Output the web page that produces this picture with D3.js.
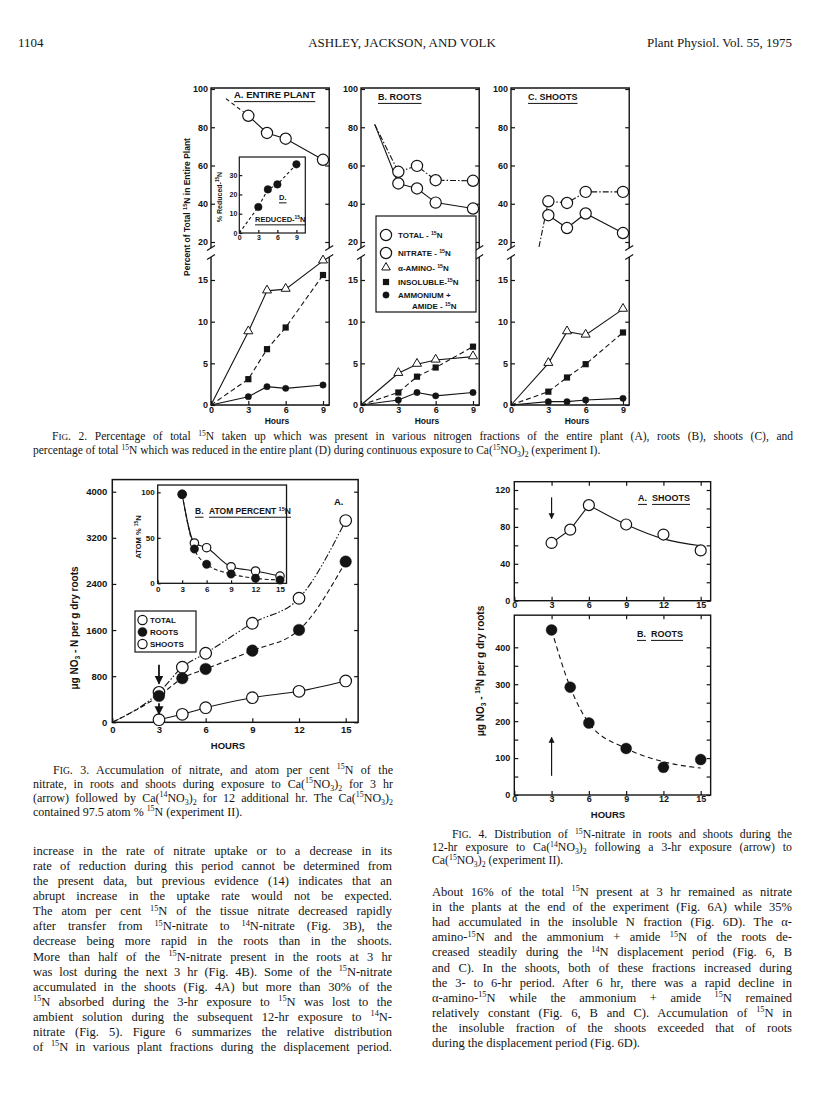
<!DOCTYPE html>
<html>
<head>
<meta charset="utf-8">
<script src="https://cdn.jsdelivr.net/npm/d3@7"></script>
<style>
body { margin: 0; background: #fff; }
svg text { fill: #141414; }
.ser { font-family: "Liberation Serif", "Times New Roman", serif; }
.lab { font-family: "Liberation Sans", Arial, sans-serif; font-weight: bold; }
</style>
</head>
<body>
<div id="page"></div>
<script>
// ---- data ----

// fig 2 - continuous exposure, hours sampled
var hours2 = [3, 4.5, 6, 9];
var nitrateA = [86, 77, 74, 63];
var aminoA = [8.8, 13.7, 13.9, 17.3];
var insolA = [3.1, 6.7, 9.3, 15.6];
var ammonA = [1.0, 2.2, 2.0, 2.4];
var leadA = [1.2, 95];

var totalB = [56.7, 59.8, 52.3, 52];
var nitrateB = [50.6, 48, 40.6, 37.5];
var aminoB = [3.8, 4.9, 5.4, 5.8];
var insolB = [1.5, 3.4, 4.5, 7.0];
var ammonB = [0.6, 1.5, 1.1, 1.5];
var leadB = [1.1, 81.5];

var totalC = [41.3, 40.4, 46.2, 46.2];
var nitrateC = [34, 27.3, 34.9, 24.7];
var aminoC = [5.0, 8.8, 8.4, 11.5];
var insolC = [1.6, 3.3, 4.9, 8.7];
var ammonC = [0.4, 0.4, 0.6, 0.8];
var leadC = [2.25, 17.4];

var reducedD = [13.5, 22.6, 25.2, 35.6];

var upTicks = [20, 40, 60, 80, 100];
var loTicks = [0, 5, 10, 15];
var hourTicks2 = [0, 3, 6, 9];
var dTicksY = [0, 10, 20, 30];

// fig 3 - displacement, experiment II
var hours3 = [3, 4.5, 6, 9, 12, 15];
var total3 = [520, 955, 1198, 1718, 2152, 3500];
var roots3 = [457, 764, 925, 1243, 1602, 2788];
var shoots3 = [45, 139, 253, 427, 538, 717];
var atomTotal = [97.8, 44.3, 39.1, 18.2, 13.5, 8];
var atomRoots = [97.8, 37.7, 20.9, 10.2, 5.5, 3.6];
var ticks3Y = [0, 800, 1600, 2400, 3200, 4000];
var hourTicks3 = [0, 3, 6, 9, 12, 15];
var atomTicks = [0, 50, 100];
var arrows3 = [[1000, 670], [330, 139]];

// fig 4
var hours4 = [3, 4.5, 6, 9, 12, 15];
var shoots4 = [62.6, 77, 103.6, 82.6, 71.7, 54.5];
var roots4 = [447, 292, 195, 126, 75, 96];
var shootsFitH = [6, 9, 12, 15];
var shootsFit = [103.6, 82.6, 67, 59.5];
var rootsFitH = [3, 4.5, 6, 9, 12, 15];
var rootsFit = [447, 292, 195, 126, 90, 73];
var ticks4A = [0, 20, 40, 60, 80, 100, 120];
var ticks4B = [0, 50, 100, 150, 200, 250, 300, 350, 400];
var arrow4A = [112, 89];
var arrow4B = [52, 156];

// ---- page text ----
var cap2 = [
  'F~{IG}. 2. Percentage of total ^{15}N taken up which was present in various nitrogen fractions of the entire plant (A), roots (B), shoots (C), and',
  'percentage of total ^{15}N which was reduced in the entire plant (D) during continuous exposure to Ca(^{15}NO_{3})_{2} (experiment I).'
];
var cap3 = [
  'F~{IG}. 3. Accumulation of nitrate, and atom per cent ^{15}N of the',
  'nitrate, in roots and shoots during exposure to Ca(^{15}NO_{3})_{2} for 3 hr',
  '(arrow) followed by Ca(^{14}NO_{3})_{2} for 12 additional hr. The Ca(^{15}NO_{3})_{2}',
  'contained 97.5 atom % ^{15}N (experiment II).'
];
var cap4 = [
  'F~{IG}. 4. Distribution of ^{15}N-nitrate in roots and shoots during the',
  '12-hr exposure to Ca(^{14}NO_{3})_{2} following a 3-hr exposure (arrow) to',
  'Ca(^{15}NO_{3})_{2} (experiment II).'
];
var leftBody = [
  'increase in the rate of nitrate uptake or to a decrease in its',
  'rate of reduction during this period cannot be determined from',
  'the present data, but previous evidence (14) indicates that an',
  'abrupt increase in the uptake rate would not be expected.',
  'The atom per cent ^{15}N of the tissue nitrate decreased rapidly',
  'after transfer from ^{15}N-nitrate to ^{14}N-nitrate (Fig. 3B), the',
  'decrease being more rapid in the roots than in the shoots.',
  'More than half of the ^{15}N-nitrate present in the roots at 3 hr',
  'was lost during the next 3 hr (Fig. 4B). Some of the ^{15}N-nitrate',
  'accumulated in the shoots (Fig. 4A) but more than 30% of the',
  '^{15}N absorbed during the 3-hr exposure to ^{15}N was lost to the',
  'ambient solution during the subsequent 12-hr exposure to ^{14}N-',
  'nitrate (Fig. 5). Figure 6 summarizes the relative distribution',
  'of ^{15}N in various plant fractions during the displacement period.'
];
var rightBody = [
  'About 16% of the total ^{15}N present at 3 hr remained as nitrate',
  'in the plants at the end of the experiment (Fig. 6A) while 35%',
  'had accumulated in the insoluble N fraction (Fig. 6D). The \u03b1-',
  'amino-^{15}N and the ammonium + amide ^{15}N of the roots de-',
  'creased steadily during the ^{14}N displacement period (Fig. 6, B',
  'and C). In the shoots, both of these fractions increased during',
  'the 3- to 6-hr period. After 6 hr, there was a rapid decline in',
  '\u03b1-amino-^{15}N while the ammonium + amide ^{15}N remained',
  'relatively constant (Fig. 6, B and C). Accumulation of ^{15}N in',
  'the insoluble fraction of the shoots exceeded that of roots',
  'during the displacement period (Fig. 6D).'
];

var ink = '#141414';

var svg = d3.select('#page').append('svg')
  .attr('width', 816).attr('height', 1100)
  .style('background', '#fff');

svg.append('defs').append('marker')
  .attr('id', 'arr').attr('viewBox', '0 0 10 10')
  .attr('refX', 9).attr('refY', 5)
  .attr('markerWidth', 5).attr('markerHeight', 6)
  .attr('orient', 'auto')
  .append('path').attr('d', 'M0,0L10,5L0,10z').attr('fill', ink);

// ---- helpers ----
// ^{..} superscript, _{..} subscript, ~{..} small caps
function rich(t, str, size) {
  var parts = str.split(/(\^\{[^}]*\}|_\{[^}]*\}|~\{[^}]*\})/);
  var cur = 0;
  parts.forEach(function(p) {
    if (!p) return;
    var k = p.charAt(0), off = 0, fs = size, body = p;
    if ((k === '^' || k === '_' || k === '~') && p.charAt(1) === '{') {
      body = p.slice(2, -1);
      if (k === '^') { off = -size * 0.38; fs = size * 0.66; }
      if (k === '_') { off = size * 0.22; fs = size * 0.66; }
      if (k === '~') { fs = size * 0.8; }
    }
    var s = t.append('tspan').attr('font-size', fs).text(body);
    if (off !== cur) { s.attr('dy', off - cur); cur = off; }
  });
  return t;
}

function textLine(x, y, str, size, cls, width, anchor) {
  var t = svg.append('text').attr('x', x).attr('y', y)
    .attr('class', cls).attr('font-size', size)
    .attr('text-anchor', anchor || 'start');
  rich(t, str, size);
  if (width) {
    var w = t.node().getComputedTextLength();
    var n = (str.match(/ /g) || []).length;
    if (n > 0) t.style('word-spacing', ((width - w) / n) + 'px');
  }
  return t;
}

function ulabel(g, x, y, str, size) {
  var t = g.append('text').attr('x', x).attr('y', y)
    .attr('class', 'lab').attr('font-size', size);
  rich(t, str, size);
  var w = t.node().getComputedTextLength();
  g.append('line').attr('x1', x).attr('x2', x + w)
    .attr('y1', y + size * 0.38).attr('y2', y + size * 0.38)
    .attr('stroke', ink).attr('stroke-width', 1);
}

function vlabel(g, x, y, str, size) {
  var t = g.append('text').attr('transform', 'translate(' + x + ',' + y + ') rotate(-90)')
    .attr('text-anchor', 'middle').attr('class', 'lab').attr('font-size', size);
  rich(t, str, size);
}

function axisStyle(sel, size) {
  sel.attr('font-family', null).attr('font-size', null);
  sel.select('.domain').remove();
  sel.selectAll('line').attr('stroke', ink).attr('stroke-width', 1.2);
  sel.selectAll('text').attr('class', 'lab').attr('font-size', size);
}

function zip(h, v) {
  return h.map(function(t, i) { return [t, v[i]]; });
}

function drawLine(g, pts, x, y, dash, curve, sw) {
  g.append('path').datum(pts)
    .attr('d', d3.line()
      .x(function(d) { return x(d[0]); })
      .y(function(d) { return y(d[1]); })
      .curve(curve || d3.curveLinear))
    .attr('fill', 'none').attr('stroke', ink)
    .attr('stroke-width', sw || 1.1)
    .attr('stroke-dasharray', dash || null);
}

function drawMarks(g, pts, x, y, kind, r) {
  var sel = g.selectAll(null).data(pts).enter();
  if (kind === 'open' || kind === 'dot') {
    sel.append('circle')
      .attr('cx', function(d) { return x(d[0]); })
      .attr('cy', function(d) { return y(d[1]); })
      .attr('r', r)
      .attr('fill', kind === 'open' ? '#fff' : ink)
      .attr('stroke', ink).attr('stroke-width', kind === 'open' ? 1.2 : 0.4);
  } else if (kind === 'square') {
    sel.append('rect')
      .attr('x', function(d) { return x(d[0]) - r; })
      .attr('y', function(d) { return y(d[1]) - r; })
      .attr('width', 2 * r).attr('height', 2 * r).attr('fill', ink);
  } else if (kind === 'tri') {
    sel.append('path')
      .attr('transform', function(d) { return 'translate(' + x(d[0]) + ',' + (y(d[1]) - 0.5) + ')'; })
      .attr('d', d3.symbol(d3.symbolTriangle, r * r * 1.9)())
      .attr('fill', '#fff').attr('stroke', ink).attr('stroke-width', 1);
  }
}

function arrow(g, x1, y1, x2, y2, sw) {
  g.append('line').attr('x1', x1).attr('y1', y1).attr('x2', x2).attr('y2', y2)
    .attr('stroke', ink).attr('stroke-width', sw || 1.2).attr('marker-end', 'url(#arr)');
}

// ---- header ----
textLine(18, 47, '1104', 13, 'ser');
textLine(402, 47, 'ASHLEY, JACKSON, AND VOLK', 13, 'ser', null, 'middle');
textLine(792, 47, 'Plant Physiol. Vol. 55, 1975', 13, 'ser', null, 'end');

// ---- fig 2 ----
var top2 = 88, brkA = 248, brkB = 257, base2 = 405;
var yUp = d3.scaleLinear().domain([20, 100]).range([242, 89]);
var yLo = d3.scaleLinear().domain([0, 15]).range([405, 280]);
var dashDot = '6,2,1.5,2';

function panel2(left) {
  var x = d3.scaleLinear().domain([0, 9]).range([left, left + 112]);
  var L = left, R = x(9.5);
  var g = svg.append('g');
  g.append('path')
    .attr('d', 'M' + L + ',' + brkA + 'V' + top2 + 'H' + R + 'V' + brkA +
               'M' + L + ',' + brkB + 'V' + base2 + 'H' + R + 'V' + brkB)
    .attr('fill', 'none').attr('stroke', ink).attr('stroke-width', 1.4);
  [L, R].forEach(function(cx) {
    [brkA, brkB].forEach(function(cy) {
      g.append('line').attr('x1', cx - 4).attr('y1', cy + 2.5)
        .attr('x2', cx + 4).attr('y2', cy - 2.5)
        .attr('stroke', ink).attr('stroke-width', 1.2);
    });
  });
  g.append('g').attr('transform', 'translate(' + L + ',0)')
    .call(d3.axisLeft(yUp).tickValues(upTicks).tickSize(-4).tickPadding(3)).call(axisStyle, 9);
  g.append('g').attr('transform', 'translate(' + L + ',0)')
    .call(d3.axisLeft(yLo).tickValues(loTicks).tickSize(-4).tickPadding(3)).call(axisStyle, 9);
  g.append('g').attr('transform', 'translate(' + R + ',0)')
    .call(d3.axisRight(yUp).tickValues(upTicks).tickSize(-4).tickFormat('')).call(axisStyle, 9);
  g.append('g').attr('transform', 'translate(' + R + ',0)')
    .call(d3.axisRight(yLo).tickValues(loTicks).tickSize(-4).tickFormat('')).call(axisStyle, 9);
  g.append('g').attr('transform', 'translate(0,' + base2 + ')')
    .call(d3.axisBottom(x).tickValues(hourTicks2).tickSize(-4).tickPadding(2)).call(axisStyle, 9);
  g.append('text').attr('x', L + 66).attr('y', 424).attr('text-anchor', 'middle')
    .attr('class', 'lab').attr('font-size', 8.5).text('Hours');
  return { g: g, x: x };
}

function lowerSeries(p, amino, insol, ammon) {
  drawLine(p.g, [[0, 0]].concat(zip(hours2, amino)), p.x, yLo);
  drawLine(p.g, [[0, 0]].concat(zip(hours2, insol)), p.x, yLo, '5,3');
  drawLine(p.g, [[0, 0]].concat(zip(hours2, ammon)), p.x, yLo);
  drawMarks(p.g, zip(hours2, amino), p.x, yLo, 'tri', 4.3);
  drawMarks(p.g, zip(hours2, insol), p.x, yLo, 'square', 3.1);
  drawMarks(p.g, zip(hours2, ammon), p.x, yLo, 'dot', 3.2);
}

// A. entire plant
var pA = panel2(211);
drawLine(pA.g, [leadA, [hours2[0], nitrateA[0]]], pA.x, yUp, '4,3');
drawLine(pA.g, zip(hours2, nitrateA), pA.x, yUp);
drawMarks(pA.g, zip(hours2, nitrateA), pA.x, yUp, 'open', 5.6);
lowerSeries(pA, aminoA, insolA, ammonA);
ulabel(pA.g, 234, 98, 'A. ENTIRE PLANT', 9.5);

// D inset (reduced 15N)
var xD = d3.scaleLinear().domain([0, 10.4]).range([239.3, 305.3]);
var yD = d3.scaleLinear().domain([0, 39.4]).range([233, 157]);
var gD = pA.g.append('g');
gD.append('rect').attr('x', xD(0)).attr('y', yD(39.4))
  .attr('width', xD(10.4) - xD(0)).attr('height', yD(0) - yD(39.4))
  .attr('fill', '#fff').attr('stroke', ink).attr('stroke-width', 1.2);
gD.append('g').attr('transform', 'translate(' + xD(0) + ',0)')
  .call(d3.axisLeft(yD).tickValues(dTicksY).tickSize(-3).tickPadding(2)).call(axisStyle, 7);
gD.append('g').attr('transform', 'translate(0,' + yD(0) + ')')
  .call(d3.axisBottom(xD).tickValues(hourTicks2).tickSize(-3).tickPadding(2)).call(axisStyle, 7);
drawLine(gD, [[0, 0]].concat(zip(hours2, reducedD)), xD, yD, '3,2.5');
drawMarks(gD, zip(hours2, reducedD), xD, yD, 'dot', 3.8);
ulabel(gD, 279, 200, 'D.', 7.5);
ulabel(gD, 255, 222, 'REDUCED-^{15}N', 7.5);
vlabel(gD, 222, 197, '% Reduced-^{15}N', 7);

// B. roots
var pB = panel2(361);
drawLine(pB.g, [leadB, [hours2[0], totalB[0]]], pB.x, yUp, dashDot);
drawLine(pB.g, [leadB, [hours2[0], nitrateB[0]]], pB.x, yUp);
drawLine(pB.g, zip(hours2, totalB), pB.x, yUp, dashDot);
drawLine(pB.g, zip(hours2, nitrateB), pB.x, yUp);
drawMarks(pB.g, zip(hours2, totalB), pB.x, yUp, 'open', 5.6);
drawMarks(pB.g, zip(hours2, nitrateB), pB.x, yUp, 'open', 5.6);
lowerSeries(pB, aminoB, insolB, ammonB);
ulabel(pB.g, 378, 100, 'B. ROOTS', 9);

// legend (in B)
var lg = pB.g.append('g');
lg.append('rect').attr('x', 376).attr('y', 216).attr('width', 100).attr('height', 96)
  .attr('fill', '#fff').attr('stroke', ink).attr('stroke-width', 1.2);
var legItems = [
  { k: 'open', r: 5.6, y: 235, t: 'TOTAL - ^{15}N' },
  { k: 'open', r: 5.6, y: 253, t: 'NITRATE - ^{15}N' },
  { k: 'tri', r: 4.1, y: 268, t: '\u03b1-AMINO- ^{15}N' },
  { k: 'square', r: 3.1, y: 282, t: 'INSOLUBLE-^{15}N' },
  { k: 'dot', r: 3.2, y: 295, t: 'AMMONIUM +' }
];
legItems.forEach(function(d) {
  drawMarks(lg, [[386, d.y]], function(v) { return v; }, function(v) { return v; }, d.k, d.r);
  var t = lg.append('text').attr('x', 398).attr('y', d.y + 3).attr('class', 'lab').attr('font-size', 8);
  rich(t, d.t, 8);
});
rich(lg.append('text').attr('x', 412).attr('y', 309).attr('class', 'lab').attr('font-size', 8), 'AMIDE - ^{15}N', 8);

// C. shoots
var pC = panel2(511);
drawLine(pC.g, [leadC, [hours2[0], totalC[0]]], pC.x, yUp, dashDot);
drawLine(pC.g, zip(hours2, totalC), pC.x, yUp, dashDot);
drawLine(pC.g, zip(hours2, nitrateC), pC.x, yUp);
drawMarks(pC.g, zip(hours2, totalC), pC.x, yUp, 'open', 5.6);
drawMarks(pC.g, zip(hours2, nitrateC), pC.x, yUp, 'open', 5.6);
lowerSeries(pC, aminoC, insolC, ammonC);
ulabel(pC.g, 528, 100, 'C. SHOOTS', 9);

vlabel(svg, 190, 207, 'Percent of Total ^{15}N in Entire Plant', 8.5);

// ---- fig 3 ----
var x3 = d3.scaleLinear().domain([0, 15]).range([112.3, 345.7]);
var y3 = d3.scaleLinear().domain([0, 4000]).range([722.3, 491.7]);
var g3 = svg.append('g');
g3.append('rect').attr('x', x3(0)).attr('y', y3(4210))
  .attr('width', x3(15.8) - x3(0)).attr('height', y3(0) - y3(4210))
  .attr('fill', 'none').attr('stroke', ink).attr('stroke-width', 1.5);
g3.append('g').attr('transform', 'translate(' + x3(0) + ',0)')
  .call(d3.axisLeft(y3).tickValues(ticks3Y).tickSize(-4).tickPadding(5).tickFormat(d3.format('d')))
  .call(axisStyle, 9.5);
g3.append('g').attr('transform', 'translate(' + x3(15.8) + ',0)')
  .call(d3.axisRight(y3).tickValues(ticks3Y).tickSize(-4).tickFormat('')).call(axisStyle, 9.5);
g3.append('g').attr('transform', 'translate(0,' + y3(0) + ')')
  .call(d3.axisBottom(x3).tickValues(hourTicks3).tickSize(-4).tickPadding(4)).call(axisStyle, 9.5);
g3.append('text').attr('x', 228).attr('y', 749).attr('text-anchor', 'middle')
  .attr('class', 'lab').attr('font-size', 9.5).text('HOURS');
vlabel(g3, 78, 628, '\u03bcg NO_{3} - N per g dry roots', 10);

drawLine(g3, [[0, 0]].concat(zip(hours3, total3)), x3, y3, '7,2,1.5,2,1.5,2', d3.curveMonotoneX);
drawLine(g3, [[0, 0]].concat(zip(hours3, roots3)), x3, y3, '5,3', d3.curveMonotoneX);
drawLine(g3, zip(hours3, shoots3), x3, y3, null, d3.curveMonotoneX);
drawMarks(g3, zip(hours3, total3), x3, y3, 'open', 5.8);
drawMarks(g3, zip(hours3, roots3), x3, y3, 'dot', 5.8);
drawMarks(g3, zip(hours3, shoots3), x3, y3, 'open', 5.8);
arrows3.forEach(function(a) {
  arrow(g3, x3(3), y3(a[0]), x3(3), y3(a[1]), 1.8);
});
g3.append('text').attr('x', 334).attr('y', 505).attr('class', 'lab').attr('font-size', 9.5).text('A.');

// legend fig 3
var lg3 = g3.append('g');
lg3.append('rect').attr('x', 135).attr('y', 611).attr('width', 61).attr('height', 41)
  .attr('fill', '#fff').attr('stroke', ink).attr('stroke-width', 1.2);
[['open', 620, 'TOTAL'], ['dot', 632, 'ROOTS'], ['open', 644, 'SHOOTS']].forEach(function(d) {
  drawMarks(lg3, [[142.5, d[1]]], function(v) { return v; }, function(v) { return v; }, d[0], 4.6);
  lg3.append('text').attr('x', 150).attr('y', d[1] + 3).attr('class', 'lab').attr('font-size', 8).text(d[2]);
});

// inset B - atom percent
var xi = d3.scaleLinear().domain([0, 15]).range([157.7, 280]);
var yi = d3.scaleLinear().domain([0, 100]).range([583.3, 492.3]);
var gi = g3.append('g');
gi.append('rect').attr('x', xi(0)).attr('y', yi(108))
  .attr('width', xi(15.8) - xi(0)).attr('height', yi(0) - yi(108))
  .attr('fill', '#fff').attr('stroke', ink).attr('stroke-width', 1.3);
gi.append('g').attr('transform', 'translate(' + xi(0) + ',0)')
  .call(d3.axisLeft(yi).tickValues(atomTicks).tickSize(-3).tickPadding(3)).call(axisStyle, 8);
gi.append('g').attr('transform', 'translate(0,' + yi(0) + ')')
  .call(d3.axisBottom(xi).tickValues(hourTicks3).tickSize(-3).tickPadding(3)).call(axisStyle, 8);
drawLine(gi, zip(hours3, atomTotal), xi, yi, null, d3.curveMonotoneX);
drawLine(gi, zip(hours3, atomRoots), xi, yi, '4,2.5', d3.curveMonotoneX);
drawMarks(gi, zip(hours3, atomTotal), xi, yi, 'open', 4.2);
drawMarks(gi, zip(hours3, atomRoots), xi, yi, 'dot', 4.2);
ulabel(gi, 195, 514, 'B.', 8.5);
ulabel(gi, 209, 514, 'ATOM PERCENT ^{15}N', 8.5);
vlabel(gi, 141, 537, 'ATOM % ^{15}N', 7.5);

// ---- fig 4 ----
var x4 = d3.scaleLinear().domain([0, 15]).range([514.3, 700.7]);
var yA4 = d3.scaleLinear().domain([0, 120]).range([600.7, 490]);
var yB4 = d3.scaleLinear().domain([0, 400]).range([795, 647.3]);
var g4 = svg.append('g');

function frame4(y, topV, ticks, labels) {
  var L = x4(0), R = x4(15.8);
  g4.append('rect').attr('x', L).attr('y', y(topV))
    .attr('width', R - L).attr('height', y(0) - y(topV))
    .attr('fill', 'none').attr('stroke', ink).attr('stroke-width', 1.4);
  g4.append('g').attr('transform', 'translate(' + L + ',0)')
    .call(d3.axisLeft(y).tickValues(ticks).tickSize(-4).tickPadding(4)
      .tickFormat(function(d) { return labels.indexOf(d) >= 0 ? d : ''; }))
    .call(axisStyle, 9);
  g4.append('g').attr('transform', 'translate(' + R + ',0)')
    .call(d3.axisRight(y).tickValues(ticks).tickSize(-4).tickFormat('')).call(axisStyle, 9);
  g4.append('g').attr('transform', 'translate(0,' + y(0) + ')')
    .call(d3.axisBottom(x4).tickValues(hourTicks3).tickSize(-4).tickPadding(1)).call(axisStyle, 9);
  g4.append('g').attr('transform', 'translate(0,' + y(topV) + ')')
    .call(d3.axisTop(x4).tickValues(hourTicks3.slice(1)).tickSize(-4).tickFormat('')).call(axisStyle, 9);
}
frame4(yA4, 129, ticks4A, [0, 40, 80, 120]);
frame4(yB4, 487, ticks4B, [0, 100, 200, 300, 400]);

drawLine(g4, zip(hours4.slice(0, 3), shoots4.slice(0, 3)), x4, yA4);
drawLine(g4, zip(shootsFitH, shootsFit), x4, yA4, null, d3.curveMonotoneX);
drawMarks(g4, zip(hours4, shoots4), x4, yA4, 'open', 5.5);
drawLine(g4, zip(rootsFitH, rootsFit), x4, yB4, '5,3.5', d3.curveMonotoneX);
drawMarks(g4, zip(hours4, roots4), x4, yB4, 'dot', 5.5);
arrow(g4, x4(3), yA4(arrow4A[0]), x4(3), yA4(arrow4A[1]), 1.2);
arrow(g4, x4(3), yB4(arrow4B[0]), x4(3), yB4(arrow4B[1]), 1.2);
ulabel(g4, 638, 501, 'A.', 9);
ulabel(g4, 652, 501, 'SHOOTS', 9);
ulabel(g4, 637, 637, 'B.', 9);
ulabel(g4, 651, 637, 'ROOTS', 9);
g4.append('text').attr('x', 608).attr('y', 818).attr('text-anchor', 'middle')
  .attr('class', 'lab').attr('font-size', 9.5).text('HOURS');
vlabel(g4, 484, 671, '\u03bcg NO_{3} - ^{15}N per g dry roots', 10);

// ---- captions and body ----
textLine(52, 440, cap2[0], 11.5, 'ser', 741);
textLine(33, 454, cap2[1], 11.5, 'ser');

cap3.forEach(function(s, i) {
  var x = i === 0 ? 53 : 33;
  textLine(x, 774 + i * 14, s, 12, 'ser', i < 3 ? 393 - x : null);
});
cap4.forEach(function(s, i) {
  var x = i === 0 ? 452 : 432;
  textLine(x, 838 + i * 13, s, 11.8, 'ser', i < 2 ? 792 - x : null);
});
leftBody.forEach(function(s, i) {
  textLine(33, 855 + i * 15.08, s, 12.5, 'ser', 359);
});
rightBody.forEach(function(s, i) {
  textLine(432, 896 + i * 15.1, s, 12.5, 'ser', i < rightBody.length - 1 ? 360 : null);
});
</script>
</body>
</html>
